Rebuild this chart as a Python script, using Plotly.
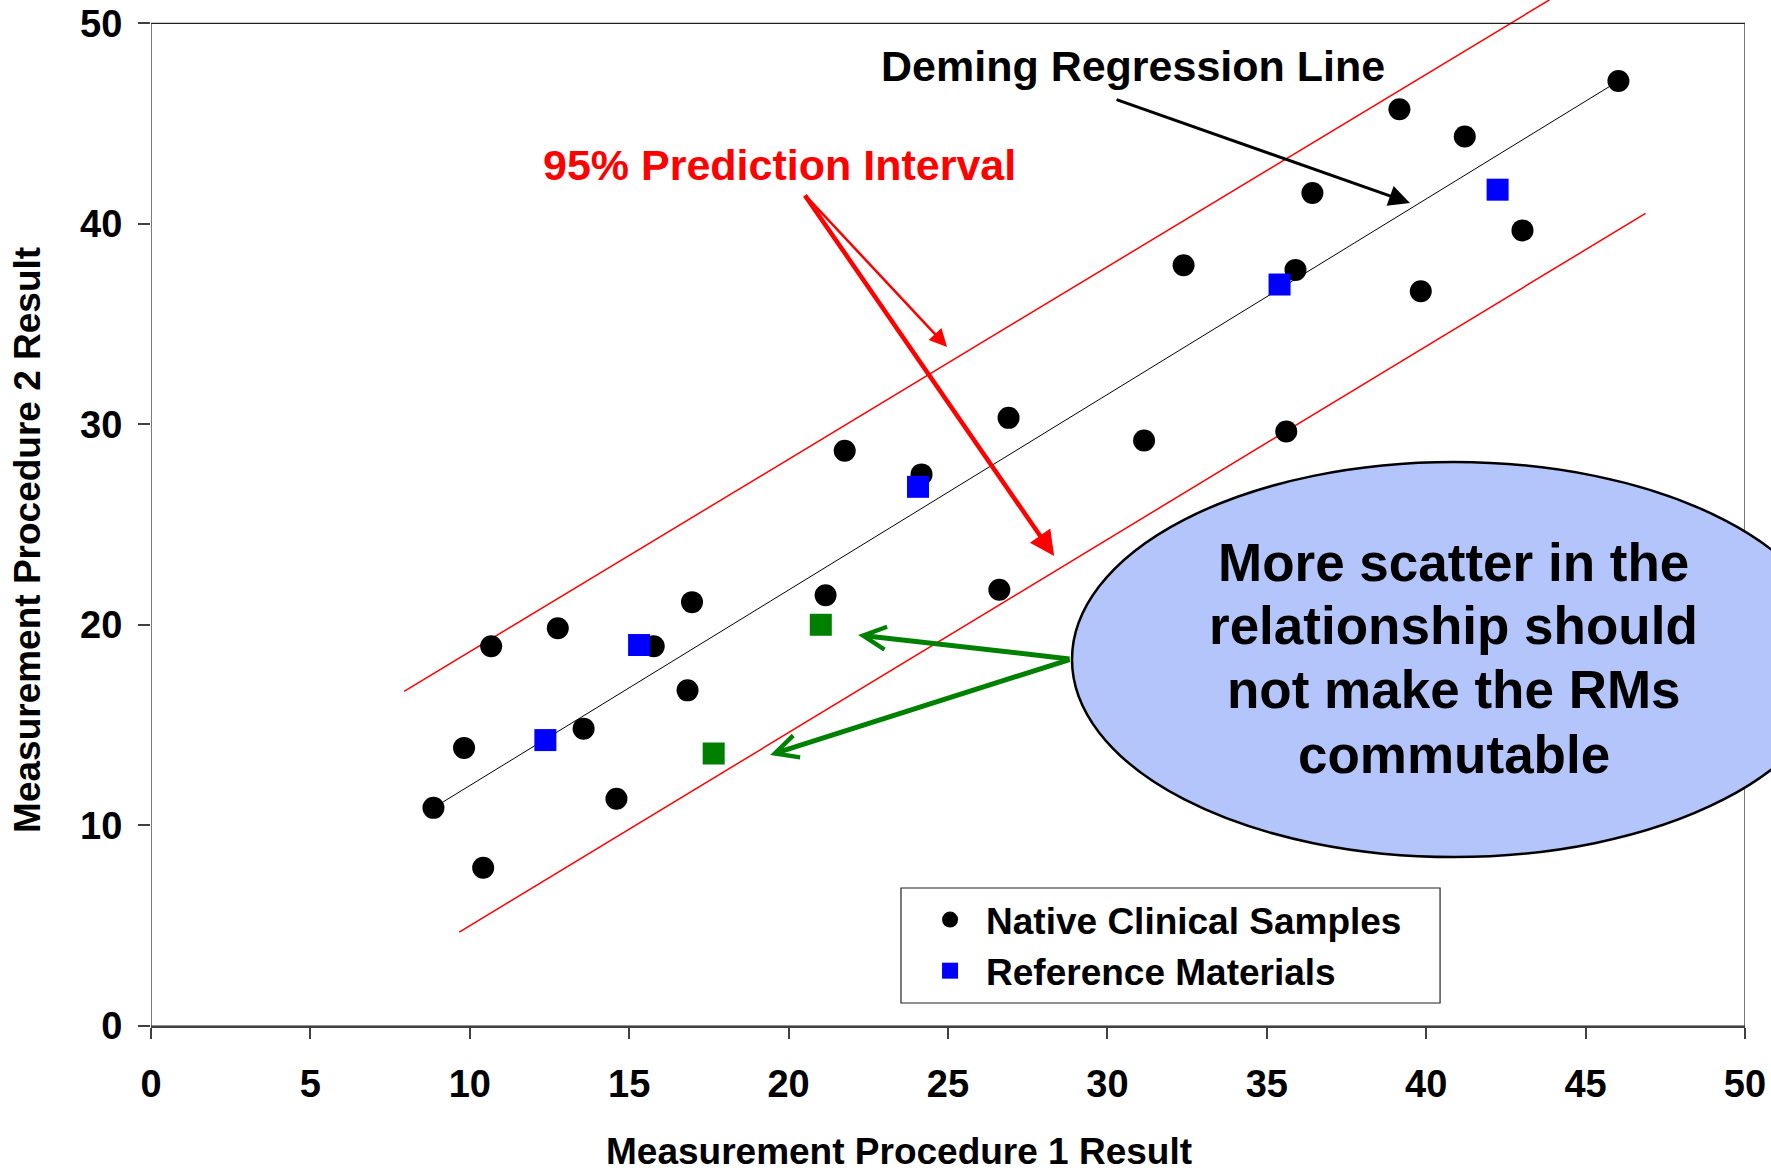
import plotly.graph_objects as go

# ---- data ----
native_x = [8.86, 9.82, 10.42, 10.67, 12.76, 13.57, 14.60, 15.77, 16.83, 16.97, 21.16, 21.76, 24.17,
            26.61, 26.90, 31.15, 32.39, 35.61, 35.90, 36.43, 39.16, 39.83, 41.21, 43.02, 46.03]
native_y = [10.88, 13.87, 7.89, 18.94, 19.84, 14.83, 11.33, 18.94, 16.74, 21.14, 21.48, 28.69, 27.51,
            21.76, 30.33, 29.20, 37.94, 29.65, 37.71, 41.54, 45.72, 36.64, 44.36, 39.68, 47.13]

ref_x = [12.37, 15.31, 24.06, 35.40, 42.24]
ref_y = [14.26, 19.00, 26.89, 36.98, 41.71]

rm_x = [21.01, 17.65]
rm_y = [20.01, 13.59]

reg_x = [8.86, 46.03]
reg_y = [10.88, 47.13]
upper_x = [7.94, 43.87]
upper_y = [16.69, 51.18]
lower_x = [9.67, 46.88]
lower_y = [4.68, 40.53]

x_ticks = [0, 5, 10, 15, 20, 25, 30, 35, 40, 45, 50]
y_ticks = [0, 10, 20, 30, 40, 50]

FONT = "Liberation Sans"

fig = go.Figure()
fig.add_trace(go.Scatter(x=upper_x, y=upper_y, mode="lines", line=dict(color="#FF0000", width=1.5),
                         showlegend=False, hoverinfo="skip"))
fig.add_trace(go.Scatter(x=lower_x, y=lower_y, mode="lines", line=dict(color="#FF0000", width=1.5),
                         showlegend=False, hoverinfo="skip"))
fig.add_trace(go.Scatter(x=reg_x, y=reg_y, mode="lines", line=dict(color="#000000", width=1),
                         showlegend=False, hoverinfo="skip"))
fig.add_trace(go.Scatter(x=native_x, y=native_y, mode="markers", name="Native Clinical Samples",
                         marker=dict(symbol="circle", size=22, color="#000000")))
fig.add_trace(go.Scatter(x=ref_x, y=ref_y, mode="markers", name="Reference Materials",
                         marker=dict(symbol="square", size=22, color="#0000FF")))
fig.add_trace(go.Scatter(x=rm_x, y=rm_y, mode="markers", showlegend=False,
                         marker=dict(symbol="square", size=22, color="#008000")))

shapes = [
    # plot frame (0..50 x 0..50)
    dict(type="rect", xref="x", yref="y", x0=0, x1=50, y0=0, y1=50,
         line=dict(color="#222222", width=1.2), layer="above"),
    # callout ellipse
    dict(type="circle", xref="paper", yref="paper", x0=0.5778, x1=1.0571, y0=0.1647, y1=0.5497,
         fillcolor="#B4C5FB", line=dict(color="#000000", width=2.5), layer="above"),
    # legend box
    dict(type="rect", xref="paper", yref="paper", x0=0.4705, x1=0.8087, y0=0.0224, y1=0.1345,
         fillcolor="#FFFFFF", line=dict(color="#222222", width=1.2), layer="above"),
]

ann = []
def txt(x, y, s, size, color="#000000", xref="x", yref="y", angle=0):
    ann.append(dict(x=x, y=y, xref=xref, yref=yref, text=s, showarrow=False, textangle=angle,
                    xanchor="center", yanchor="middle",
                    font=dict(family=FONT, size=size, color=color, weight="bold")))

def arrow(x, y, ax, ay, color, width, head, size):
    ann.append(dict(x=x, y=y, ax=ax, ay=ay, xref="x", yref="y", axref="x", ayref="y", text="",
                    showarrow=True, arrowhead=head, arrowsize=size, arrowwidth=width,
                    arrowcolor=color, standoff=0, startstandoff=0))

txt(30.80, 47.90, "Deming Regression Line", 43)
txt(19.73, 42.95, "95% Prediction Interval", 43, color="#FF0000")
for yy, line in zip([23.11, 19.97, 16.78, 13.54],
                    ["More scatter in the", "relationship should", "not make the RMs", "commutable"]):
    txt(40.87, yy, line, 53)

arrow(39.49, 41.05, 30.24, 46.23, "#000000", 3, 2, 1.4)
arrow(24.97, 33.87, 20.48, 41.50, "#FF0000", 2.5, 2, 1.4)
arrow(28.33, 23.44, 20.48, 41.50, "#FF0000", 4.5, 2, 1.1)
arrow(22.18, 19.50, 28.86, 18.30, "#008000", 5, 5, 0.9)
arrow(19.42, 13.52, 28.86, 18.30, "#008000", 5, 5, 0.9)

# axis titles
txt(0.4693, -0.1228, "Measurement Procedure 1 Result", 37, xref="paper", yref="paper")
txt(-0.0772, 0.4737, "Measurement Procedure 2 Result", 37, xref="paper", yref="paper", angle=-90)

fig.update_layout(
    width=1771, height=1172,
    margin=dict(l=151, r=26, t=0, b=146),
    paper_bgcolor="#FFFFFF", plot_bgcolor="#FFFFFF",
    font=dict(family=FONT, color="#000000"),
    shapes=shapes, annotations=ann,
    legend=dict(x=0.4787, y=0.1335, xanchor="left", yanchor="top",
                bgcolor="rgba(0,0,0,0)", borderwidth=0, itemwidth=62,
                font=dict(family=FONT, size=37, color="#000000", weight="bold")),
    xaxis=dict(range=[0, 50], tickvals=x_ticks, ticktext=[str(v) for v in x_ticks],
               showgrid=False, zeroline=False, showline=True, linecolor="#404040", linewidth=2,
               ticks="outside", ticklen=11, tickcolor="#404040", tickwidth=1.5,
               tickfont=dict(family=FONT, size=38, color="#000000", weight="bold"),
               ticklabelstandoff=12),
    yaxis=dict(range=[0, 51.17], tickvals=y_ticks, ticktext=[str(v) for v in y_ticks],
               showgrid=False, zeroline=False, showline=False,
               ticks="outside", ticklen=12, tickcolor="#404040", tickwidth=1.5,
               tickfont=dict(family=FONT, size=38, color="#000000", weight="bold"),
               ticklabelstandoff=8),
)

fig.write_html("out.html", config={"displayModeBar": False},
               post_script="document.body.style.margin='0';document.body.style.padding='0';")
